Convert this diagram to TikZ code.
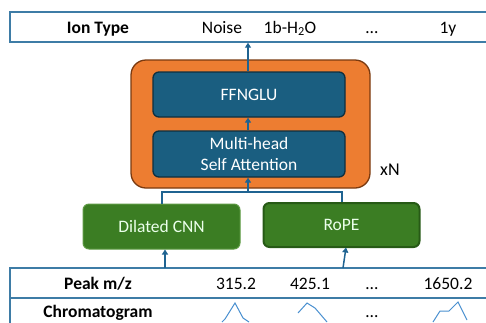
\documentclass[tikz,border=0pt]{standalone}
\usepackage{fontspec}
\setmainfont{Carlito}
\usetikzlibrary{arrows.meta}
\definecolor{tblline}{HTML}{3E7CA6}
\definecolor{conn}{HTML}{1F6391}
\definecolor{darkblue}{HTML}{1A5E80}
\definecolor{darkblueb}{HTML}{0F2F3F}
\definecolor{orangefill}{HTML}{ED7D31}
\definecolor{orangeb}{HTML}{7A3A10}
\definecolor{greenfill}{HTML}{3B7D23}
\definecolor{greenb}{HTML}{5E9A44}
\definecolor{greenbd}{HTML}{275A16}
\definecolor{chromo}{HTML}{4A90D0}
\tikzset{
  tbl/.style={draw=tblline, line width=1.4pt},
  txt/.style={font=\fontsize{17.5}{20}\selectfont, text=black, inner sep=0pt, text height=12pt, text depth=1pt},
  btxt/.style={txt, font=\fontsize{17.5}{20}\selectfont\bfseries},
  bluebox/.style={draw=darkblueb, line width=1.3pt, fill=darkblue, rounded corners=6pt, text=white, font=\fontsize{17.5}{21}\selectfont, align=center},
  greenbox/.style={fill=greenfill, rounded corners=6pt, text=white!92!green, font=\fontsize{17.5}{20}\selectfont},
  conline/.style={draw=conn, line width=1.5pt},
  arr/.style={conline, -{Triangle[length=5pt,width=6pt]}},
  chrom/.style={draw=chromo, line width=1pt},
}
\begin{document}
\begin{tikzpicture}[x=1pt,y=-1pt]
\useasboundingbox (0,0) rectangle (486,322);
\clip (0,0) rectangle (486,322);
% top table
\draw[tbl] (520,12) -- (10,12) -- (10,42) -- (520,42);
\node[btxt] (iontype) at (98,27.5) {Ion Type};
\node[txt] (noise) at (222,27.5) {Noise};
\node[txt] (bh2o) at (290,27.5) {1b-H\textsubscript{2}O};
\node[txt] (dots1) at (372,27.5) {…};
\node[txt] (y1) at (448,27.5) {1y};
\coordinate (tblbot) at (248,42.7);
% orange block
\node[draw=orangeb, line width=1.3pt, fill=orangefill, rounded corners=15pt, minimum width=239pt, minimum height=128pt, inner sep=0pt] (block) at (250.5,124) {};
\node[bluebox, minimum width=192pt, minimum height=45pt, inner sep=0pt] (ffn) at (249,94.5) {FFNGLU};
\node[bluebox, minimum width=192pt, minimum height=46pt, inner sep=0pt] (mha) at (249,154) {Multi-head\\Self Attention};
\node[txt, anchor=west, font=\fontsize{18}{21}\selectfont] (xn) at (380,170) {xN};
% green boxes
\node[greenbox, draw=greenb, line width=1pt, minimum width=157pt, minimum height=45pt, inner sep=0pt] (cnn) at (161.5,226.5) {Dilated CNN};
\node[greenbox, draw=greenbd, line width=2pt, minimum width=156pt, minimum height=44pt, inner sep=0pt] (rope) at (341.5,225) {RoPE};
% bottom table
\draw[tbl] (520,268) -- (10,268) -- (10,330);
\draw[tbl] (10,298) -- (520,298);
\node[btxt] (peak) at (98,283.5) {Peak m/z};
\node[txt] (p1) at (236,283.5) {315.2};
\node[txt] (p2) at (310,283.5) {425.1};
\node[txt] (pd) at (372,283.5) {…};
\node[txt] (p3) at (448,283.5) {1650.2};
\node[btxt] (chrom) at (98,312) {Chromatogram};
\node[txt] (cd) at (372,312) {…};
\coordinate (cnnin) at (165,268);
\coordinate (ropein) at (343,268);
% connectors
\coordinate (jl) at (162,192);
\coordinate (jr) at (342,192);
\coordinate (jm) at (248,192);
\draw[conline] (cnn.north -| jl) -- (jl) -- (jr) -- (rope.north -| jr);
\draw[arr] (jm) -- (mha.south -| jm);
\draw[arr] (mha.north -| jm) -- (ffn.south -| jm);
\draw[arr] (ffn.north -| jm) -- (tblbot);
\draw[arr] (cnnin) -- (cnn.south -| cnnin);
\draw[arr] (ropein) -- (346,247.5);
% chromatograms
\draw[chrom] (222,322) -- (225,319) -- (235,303) -- (243,318) -- (249,322);
\draw[chrom] (298,313) -- (307,303) -- (315,308) -- (327,322);
\draw[chrom] (433,322) -- (440,311) -- (449,311) -- (458,302) -- (467,320);
\end{tikzpicture}
\end{document}
